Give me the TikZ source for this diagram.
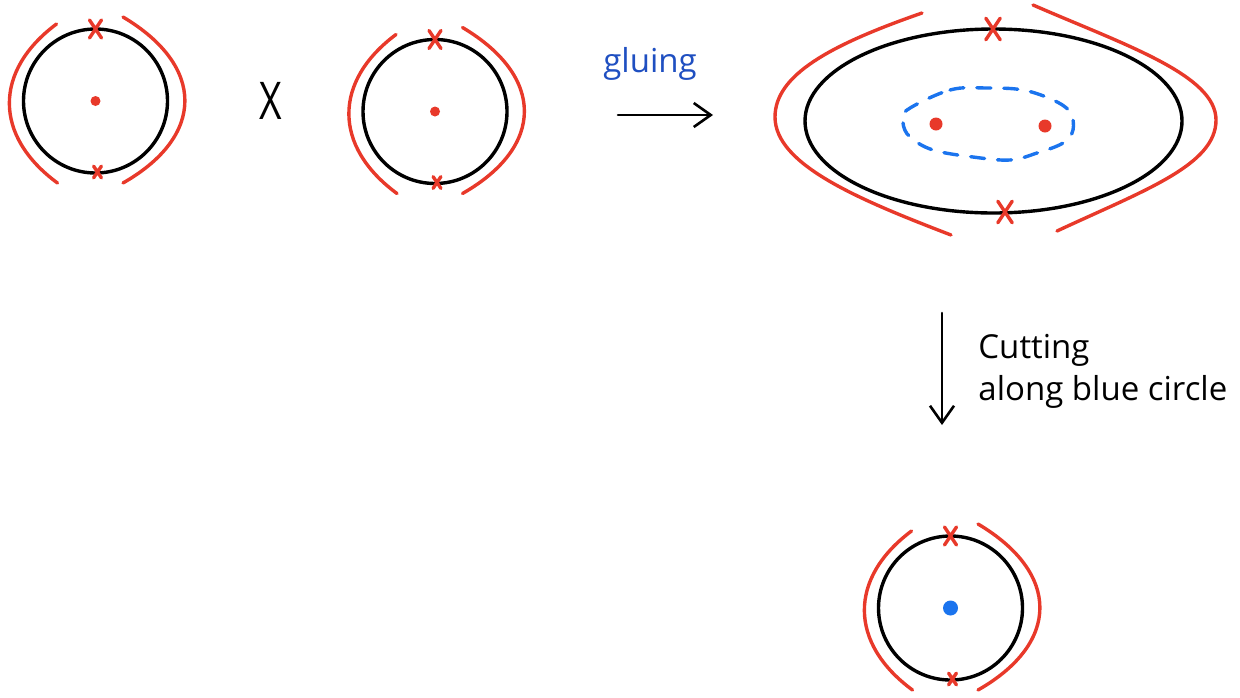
\documentclass[tikz,border=0pt]{standalone}
\usepackage{fontspec}
\setmainfont{Open Sans}
\usetikzlibrary{positioning,arrows.meta,shapes.geometric}
\definecolor{seam}{HTML}{E8392A}
\definecolor{cutblue}{HTML}{1B74EE}
\definecolor{inkblue}{HTML}{1F4FC1}

\begin{document}
\begin{tikzpicture}[x=0.5pt, y=-0.5pt, >={Straight Barb[length=8.5pt,width=12pt]},
    every node/.style={font=\fontsize{16.5}{20}\selectfont},
    rim/.style={draw=black, line width=1.7pt},
    seamline/.style={draw=seam, line width=1.7pt, line cap=round},
    cutline/.style={draw=cutblue, line width=1.7pt, line cap=round, dash pattern=on 7pt off 6.5pt},
    flow/.style={->, line width=1.3pt, line cap=round},
    puncture/.pic={\draw[seamline] (-6,-9) -- (6,9) (6,-9) -- (-6,9);}]
  \useasboundingbox (0,0) rectangle (1240,697);

  % the three disks, each with its two boundary arcs
  \foreach \cx/\cy/\nm/\dotc/\dotr in {95.5/101/diskA/seam/5, 435/111.5/diskB/seam/5, 950.5/608/diskC/cutblue/7.5} {
    \begin{scope}[shift={(\cx,\cy)}]
      \node[circle, rim, minimum size=72pt, inner sep=0pt] (\nm) at (0,0) {};
      \fill[\dotc] (0,0) circle[radius=\dotr];
      \draw[seamline] (-39,-77) .. controls (-102,-30) and (-102,35) .. (-38,82);
      \draw[seamline] (27.5,-84) .. controls (110,-35) and (110,35) .. (27.5,82);
      \pic at (0,-72) {puncture};
      \pic[scale=0.65] at (2,71) {puncture};
    \end{scope}
  }
  \node[font=\fontsize{26}{26}\selectfont, xscale=0.75] (times) at (271,101) {X};

  % gluing step
  \coordinate (glueS) at (618,115);
  \coordinate (glueE) at (713,115);
  \draw[flow] (glueS) -- (glueE);
  \node[text=inkblue] (gluelbl) at (650,64) {gluing};

  % glued surface
  \node[ellipse, rim, minimum width=188.5pt, minimum height=92pt, inner sep=0pt] (glued) at (993.5,121) {};
  \draw[seamline] (922,13) .. controls (830,45) and (775,75) .. (775,117)
    .. controls (775,165) and (860,200) .. (951,235);
  \draw[seamline] (1033,5) .. controls (1125,45) and (1216,75) .. (1216,120)
    .. controls (1216,165) and (1145,190) .. (1057,231);
  \pic[scale=1.2] at (993,29) {puncture};
  \pic[scale=1.2] at (1005,212) {puncture};
  \fill[seam] (936,124) circle[radius=6.5] (1045,126) circle[radius=6.5];
  \draw[cutline] plot[smooth cycle, tension=0.6] coordinates {(907,110) (950,90) (987,88) (1023,90)
    (1053,100) (1070,112) (1073,130) (1063,143) (1037,153) (1010,160) (973,157) (933,150) (910,137) (903,123)};

  % cutting step
  \coordinate (cutS) at (942,313);
  \coordinate (cutE) at (942,425);
  \draw[flow] (cutS) -- (cutE);
  \node[anchor=base west, inner sep=0pt] (cutlbl) at (978,358) {Cutting};
  \node[anchor=base west, inner sep=0pt] (alonglbl) at ([yshift=-21pt]cutlbl.base west) {along blue circle};
\end{tikzpicture}
\end{document}
